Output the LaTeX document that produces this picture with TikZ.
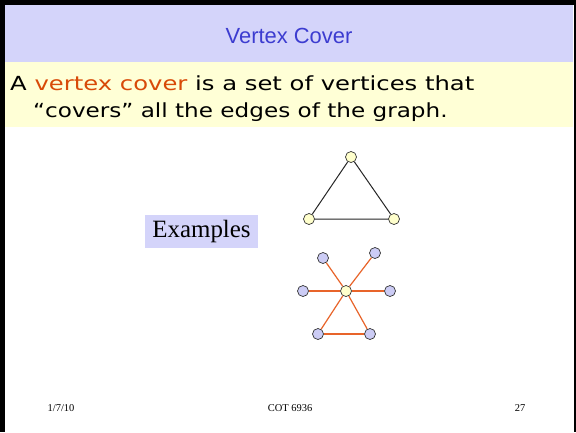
\documentclass[tikz,border=0pt]{standalone}
\usepackage{fontspec}
\setmainfont{Liberation Serif}
\newfontfamily\titlefont{Liberation Sans}
\newfontfamily\bodyfont{DejaVu Sans}
\definecolor{bandblue}{HTML}{D4D4FA}
\definecolor{bandyellow}{HTML}{FFFFD6}
\definecolor{titleblue}{HTML}{3C3CD0}
\definecolor{hlorange}{HTML}{D84A08}
\definecolor{edgeorange}{HTML}{E8642A}
\definecolor{nodeyellow}{HTML}{FFFFCC}
\definecolor{nodeblue}{HTML}{CCCCF5}
\tikzset{
  vy/.style={circle, draw=black!80, fill=nodeyellow, line width=0.7bp, minimum size=11bp, inner sep=0pt},
  vb/.style={circle, draw=black!80, fill=nodeblue, line width=0.7bp, minimum size=11bp, inner sep=0pt},
  bk/.style={draw=black!85, line width=1bp},
  oe/.style={draw=edgeorange, line width=1.2bp},
  foot/.style={font=\fontsize{10.5}{12}\selectfont, inner sep=0pt},
  body/.style={font=\bodyfont\fontsize{19.5}{21}\selectfont, anchor=base west, inner sep=0pt},
}
\begin{document}
\begin{tikzpicture}[x=1bp, y=-1bp]
\useasboundingbox (0,0) rectangle (576,432);
\fill[white] (0,0) rectangle (576,432);
% bands
\fill[bandblue] (5,5) rectangle (573,62);
\fill[bandyellow] (5,62) rectangle (573,127);
% border
\fill[black] (0,0) rectangle (5,432);
\fill[black] (0,0) rectangle (576,5);
\fill[black] (573.5,0) rectangle (575.5,432);
% title
\node[font=\titlefont\fontsize{22}{24}\selectfont, text=titleblue, inner sep=0pt] (title) at (289,36) {Vertex Cover};
% body text
\node[body] (line1) at (10,90)
  {\scalebox{1.25}[1]{A \textcolor{hlorange}{vertex cover} is a set of vertices that}};
\node[body] (line2) at (33,117)
  {\scalebox{1.19}[1]{“covers” all the edges of the graph.}};
% examples box
\node[fill=bandblue, minimum width=113bp, minimum height=33bp, inner sep=0pt,
      font=\fontsize{25}{27}\selectfont] (ex) at (201.5,231.5) {Examples};
% triangle
\node[vy] (t1) at (351,157) {};
\node[vy] (t2) at (309,219) {};
\node[vy] (t3) at (394,219) {};
\draw[bk] (t1) -- (t2) -- (t3) -- (t1);
% star
\node[vy] (c) at (346,291) {};
\node[vb] (s1) at (323,258) {};
\node[vb] (s2) at (375,253) {};
\node[vb] (s3) at (303,291) {};
\node[vb] (s4) at (390,291) {};
\node[vb] (s5) at (318,334) {};
\node[vb] (s6) at (370,334) {};
\foreach \s in {s1,s2,s3,s4,s5,s6} \draw[oe] (c) -- (\s);
\draw[oe] (s5) -- (s6);
% footer
\node[foot] (date) at (61,408) {1/7/10};
\node[foot] (course) at (290,408) {COT 6936};
\node[foot] (page) at (520,408) {27};
\end{tikzpicture}
\end{document}
